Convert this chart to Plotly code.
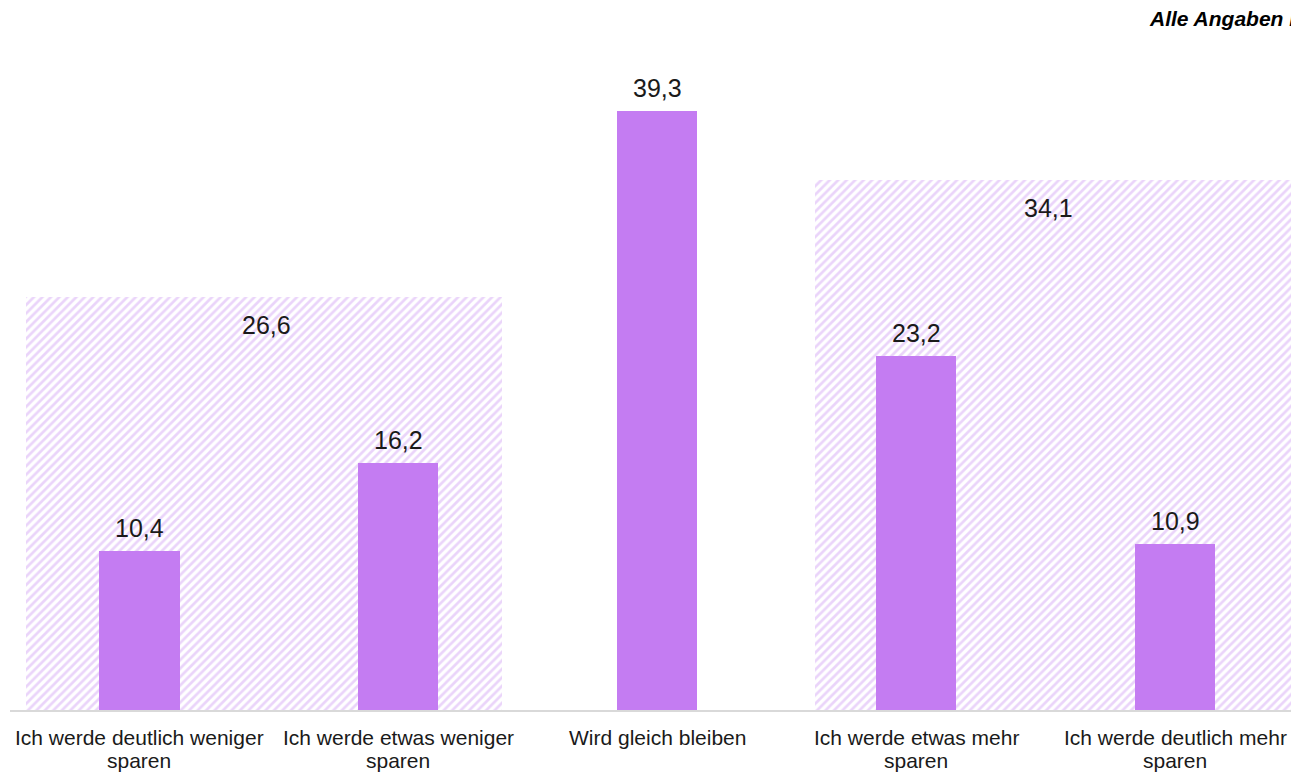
import plotly.graph_objects as go

# Answer categories and shares (in %)
categories = [
    "Ich werde deutlich weniger<br>sparen",
    "Ich werde etwas weniger<br>sparen",
    "Wird gleich bleiben",
    "Ich werde etwas mehr<br>sparen",
    "Ich werde deutlich mehr<br>sparen",
]
shares = [10.4, 16.2, 39.3, 23.2, 10.9]

# Net values for the grouped answers ("weniger" and "mehr")
group_labels = ["weniger", "mehr"]
group_totals = [26.6, 34.1]

BAR_COLOR = "#c47cf2"
HATCH_COLOR = "#d6aaf6"
TEXT_COLOR = "#1a1a1a"
FONT = "Liberation Sans, Arial, sans-serif"


def de(v):
    return f"{v:.1f}".replace(".", ",")


x_idx = list(range(len(categories)))
group_centers = [0.48, 3.53]
group_width = 1.84

fig = go.Figure()

# Hatched background blocks for the two groups
fig.add_trace(go.Bar(
    x=group_centers,
    y=group_totals,
    width=[group_width] * len(group_totals),
    marker=dict(
        color="white",
        line=dict(width=0),
        pattern=dict(shape="/", fgcolor=HATCH_COLOR, bgcolor="white",
                     size=6, solidity=0.45),
    ),
    yaxis="y",
    hoverinfo="skip",
    showlegend=False,
))

# Individual answer bars
fig.add_trace(go.Bar(
    x=x_idx,
    y=shares,
    width=[0.31] * len(shares),
    marker=dict(color=BAR_COLOR, line=dict(width=0)),
    yaxis="y2",
    showlegend=False,
))

annotations = []
for xi, v in zip(x_idx, shares):
    annotations.append(dict(
        x=xi, y=v, xref="x", yref="y2", text=de(v),
        showarrow=False, yanchor="bottom", yshift=7,
        font=dict(size=25, color=TEXT_COLOR, family=FONT),
    ))

for xc, v in zip([0.49, 3.51], group_totals):
    annotations.append(dict(
        x=xc, y=v, xref="x", yref="y", text=de(v),
        showarrow=False, yanchor="top", yshift=-12,
        font=dict(size=25, color=TEXT_COLOR, family=FONT),
    ))

# Category labels, one annotation per text line for tight line spacing
for xi, label in zip(x_idx, categories):
    for li, line in enumerate(label.split("<br>")):
        annotations.append(dict(
            x=xi, y=0, xref="x", yref="paper", text=line,
            showarrow=False, xanchor="center", yanchor="middle",
            yshift=-27 - 23 * li,
            font=dict(size=21, color=TEXT_COLOR, family=FONT),
        ))

annotations.append(dict(
    x=(1147 - 10) / 1281, y=1.0085, xref="paper", yref="paper",
    text="<b><i>Alle Angaben in %</i></b>", showarrow=False,
    xanchor="left", yanchor="middle",
    font=dict(size=21, color="#000000", family=FONT),
))

fig.update_layout(
    width=1291,
    height=772,
    margin=dict(l=10, r=0, t=24, b=62),
    paper_bgcolor="white",
    plot_bgcolor="white",
    barmode="overlay",
    bargap=0,
    font=dict(family=FONT, color=TEXT_COLOR),
    xaxis=dict(
        range=[-0.5, 4.448],
        tickmode="array",
        tickvals=x_idx,
        showticklabels=False,
        showline=True,
        linecolor="#d9d9d9",
        linewidth=2,
        showgrid=False,
        zeroline=False,
        ticks="",
    ),
    yaxis=dict(range=[0, 44.14], visible=False, showgrid=False),
    yaxis2=dict(range=[0, 45], visible=False, showgrid=False,
                overlaying="y", side="left"),
    annotations=annotations,
)

fig.write_html("out.html")
